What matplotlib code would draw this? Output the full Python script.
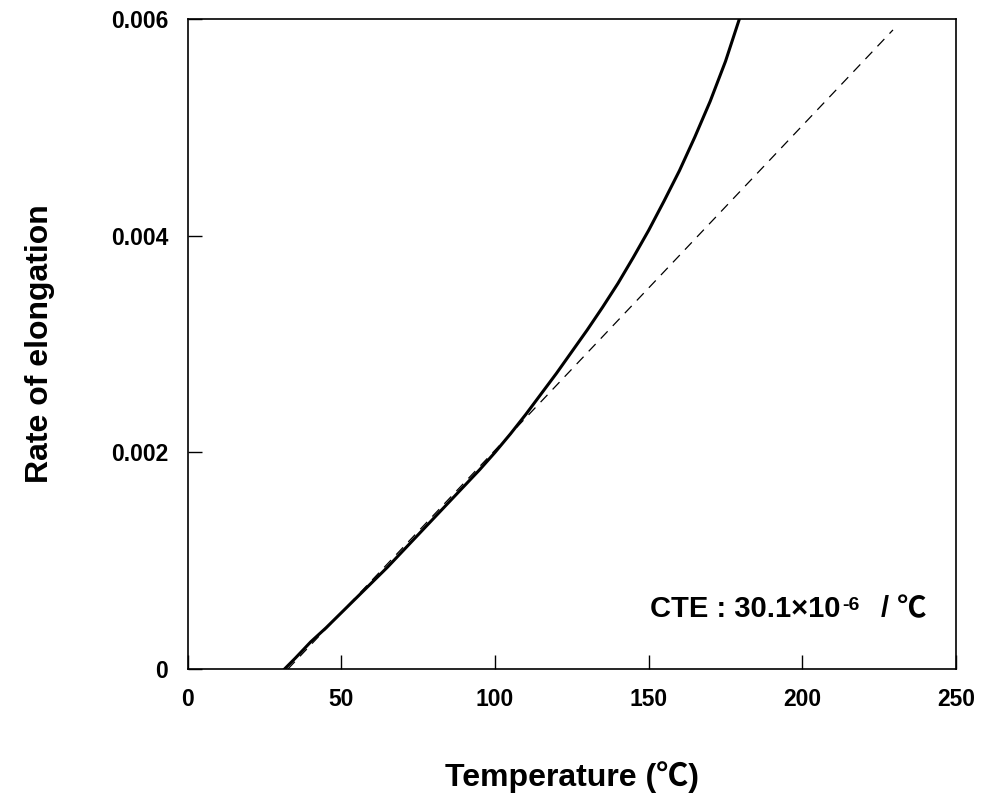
import numpy as np
import matplotlib
matplotlib.use('Agg')
import matplotlib.pyplot as plt

plt.rcParams['font.family'] = ['Liberation Sans', 'Noto Sans CJK JP', 'DejaVu Sans']
plt.rcParams['font.weight'] = 'bold'

# measured elongation curve
temp = [31.5, 35, 40, 45, 50, 55, 60, 65, 70, 75, 80, 85, 90, 95, 100,
        105, 110, 115, 120, 125, 130, 135, 140, 145, 150, 155, 160, 165,
        170, 175, 179.5]
elong = [0.0, 0.00010, 0.00025, 0.00038, 0.00052, 0.00066, 0.00080, 0.00094,
         0.00109, 0.00124, 0.00139, 0.00154, 0.00169, 0.00184, 0.00200,
         0.00217, 0.00235, 0.00254, 0.00273, 0.00293, 0.00313, 0.00334,
         0.00356, 0.00380, 0.00405, 0.00432, 0.00460, 0.00491, 0.00524,
         0.00561, 0.00600]

# linear fit (CTE)
fit_temp = [32.6, 229.5]
fit_elong = [0.0, 0.0059]

xticks = [0, 50, 100, 150, 200, 250]
yticks = [0, 0.002, 0.004, 0.006]
yticklabels = ['0', '0.002', '0.004', '0.006']

fig = plt.figure(figsize=(9.83, 7.95), dpi=100)
ax = fig.add_axes([0.191, 0.1585, 0.7815, 0.8175])

ax.plot(temp, elong, color='black', linewidth=2.2, solid_joinstyle='round')
ax.plot(fit_temp, fit_elong, color='black', linewidth=0.9, linestyle=(0, (8, 6)))

ax.set_xlim(0, 250)
ax.set_ylim(0, 0.006)
ax.set_xticks(xticks)
ax.set_xticklabels([str(t) for t in xticks])
ax.set_yticks(yticks)
ax.set_yticklabels(yticklabels)
ax.tick_params(direction='in', length=10, width=1, labelsize=16.5, pad=14)
for s in ax.spines.values():
    s.set_linewidth(1.2)

ax.set_xlabel('Temperature (℃)', fontsize=23, fontweight='bold', labelpad=36)
ax.set_ylabel('Rate of elongation', fontsize=23, fontweight='bold', labelpad=40)

# CTE annotation, built in pieces so the superscript keeps a plain hyphen
t1 = ax.text(0.602, 0.08, 'CTE : 30.1×10', transform=ax.transAxes,
             ha='left', va='baseline', fontsize=21, fontweight='bold')
ax.annotate('-6', xy=(1, 0), xycoords=t1, xytext=(1, 9),
            textcoords='offset points', ha='left', va='baseline',
            fontsize=14, fontweight='bold')
ax.annotate('/ ℃', xy=(1, 0), xycoords=t1, xytext=(29, 0),
            textcoords='offset points', ha='left', va='bottom',
            fontsize=21, fontweight='bold')

fig.savefig('out.png', dpi=100)
